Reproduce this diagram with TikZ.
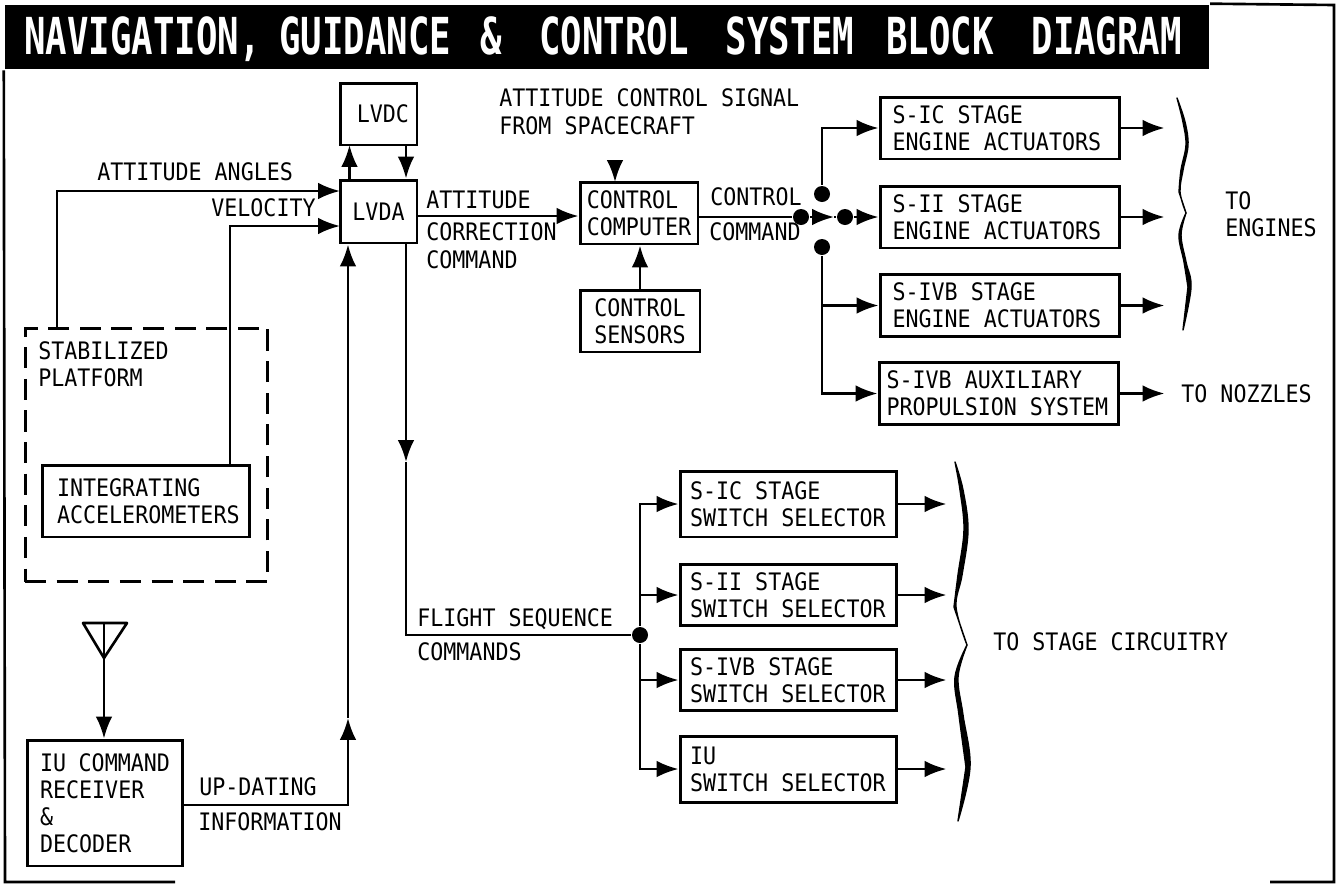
\documentclass[tikz,border=0pt]{standalone}
\usepackage{fontspec}
\usetikzlibrary{arrows.meta}
\newfontfamily\lblfont[FakeStretch=0.9]{DejaVu Sans Mono}
\newfontfamily\ttlfont[FakeStretch=0.70]{DejaVu Sans Mono Bold}
\begin{document}
\begin{tikzpicture}[x=0.02cm, y=-0.02cm, >={Latex[length=12.5pt,width=9.5pt]}, line width=1.5pt,
      font=\lblfont\fontsize{13.7pt}{15.4pt}\selectfont,
      blk/.style={draw, line width=1.7pt, align=flush left, inner sep=0pt},
      eng/.style={blk, minimum width=4.8cm, minimum height=1.24cm, text width=4.3cm},
      swt/.style={blk, minimum width=4.34cm, minimum height=1.24cm, text width=3.94cm},
      lbl/.style={anchor=west, align=left, inner sep=0pt},
      dot/.style={circle, fill=black, inner sep=0pt, minimum size=0.32cm},
      brc/.style={line width=0.8pt, line join=round}]
    \useasboundingbox (0,0) rectangle (1338,883);
    % frame and title
    \node[fill=black, minimum width=24.08cm, minimum height=1.28cm, inner sep=0pt] (ttl) at (607,37) {};
    \node[anchor=base west, inner sep=0pt, text=white, font=\ttlfont\fontsize{29pt}{30pt}\selectfont] (ttltxt) at (23,54) {NAVIGATION,\hspace{10.8pt}GUIDANCE\hspace{16.8pt}\&\hspace{21pt}CONTROL\hspace{20.6pt}SYSTEM\hspace{18.2pt}BLOCK\hspace{21.5pt}DIAGRAM};
    \draw (ttl.north east) -- (1334,5) -- (1334,882) -- (1270,882);
    \draw (ttl.south west) -- (5,882) -- (175,882);
    % computer and attitude loop
    \node[blk, minimum width=1.54cm, minimum height=1.24cm] (lvdc) at (378.5,114) {\hspace*{5pt}LVDC};
    \node[blk, minimum width=1.54cm, minimum height=1.26cm] (lvda) at (378.5,211.5) {LVDA};
    \node[blk, minimum width=2.36cm, minimum height=1.24cm] (comp) at (639,213) {CONTROL\\COMPUTER};
    \node[blk, minimum width=2.4cm, minimum height=1.24cm] (sens) at (640,321) {CONTROL\\SENSORS};
    \node[draw, dash pattern=on 12pt off 6pt, line width=1.7pt, minimum width=4.86cm, minimum height=5.08cm, inner sep=0pt] (plat) at (146.5,455) {};
    \node[lbl] (plattxt) at (37,364) {STABILIZED\\PLATFORM};
    \node[blk, minimum width=4.16cm, minimum height=1.44cm, text width=3.56cm] (accel) at (146,501) {INTEGRATING\\ACCELEROMETERS};
    \node[blk, minimum width=3.12cm, minimum height=2.52cm, text width=2.6cm] (recv) at (105,803) {IU COMMAND\\RECEIVER\\\&\\DECODER};
    % engine actuators
    \node[eng] (eng1) at (1000,128) {S-IC STAGE\\ENGINE ACTUATORS};
    \node[eng] (eng2) at (1000,217) {S-II STAGE\\ENGINE ACTUATORS};
    \node[eng] (eng3) at (1000,305.5) {S-IVB STAGE\\ENGINE ACTUATORS};
    \node[eng, text width=4.5cm] (aps) at (999,393.5) {S-IVB AUXILIARY\\PROPULSION SYSTEM};
    % switch selectors
    \node[swt, minimum height=1.32cm] (swt1) at (788.5,504) {S-IC STAGE\\SWITCH SELECTOR};
    \node[swt, minimum height=1.22cm] (swt2) at (788.5,595) {S-II STAGE\\SWITCH SELECTOR};
    \node[swt, minimum height=1.22cm] (swt3) at (788.5,680) {S-IVB STAGE\\SWITCH SELECTOR};
    \node[swt, minimum height=1.32cm] (swt4) at (788.5,769) {IU\\SWITCH SELECTOR};
    % junctions
    \node[dot] (jleft) at (801,217) {};
    \node[dot] (jright) at (845,217) {};
    \node[dot] (jtop) at (822,194) {};
    \node[dot] (jlow) at (822,247) {};
    \node[dot] (jseq) at (640,635) {};
    % free ends
    \coordinate (angfoot) at (57,328);
    \coordinate (angin) at (340,191);
    \coordinate (velfoot) at (230,465);
    \coordinate (velin) at (340,226);
    \coordinate (updn) at (349.5,145);
    \coordinate (dndn) at (406,145);
    \coordinate (attout) at (417,216);
    \coordinate (sigtop) at (615,160);
    \coordinate (sigin) at (615,182);
    \coordinate (jmid) at (834,217);
    \coordinate (seqtop) at (406,243);
    \coordinate (seqhead) at (406,462);
    \coordinate (updout) at (183,805);
    \coordinate (updhead) at (348,718);
    \coordinate (anttop) at (104,623);
    \coordinate (antl) at (83,623);
    \coordinate (antr) at (127,623);
    \coordinate (anttip) at (104,658);
    % connectors
    \draw[->] (angfoot) |- (angin);
    \draw[->] (velfoot) |- (velin);
    \draw[->] (updn |- lvda.north) -- (updn);
    \draw[->] (dndn) -- (dndn |- lvda.north);
    \draw[->] (attout) -- (attout -| comp.west);
    \draw[->] (sigtop) -- (sigin);
    \draw[->] (sens.north) -- (sens.north |- comp.south);
    \draw (jleft -| comp.east) -- (jleft);
    \draw[->] (jleft) -- (jmid);
    \draw (jmid) -- (jright);
    \draw[->] (jright) -- (eng2.west);
    \draw[->] (jtop) |- (eng1.west);
    \draw[->] (jlow) |- (eng3.west);
    \draw[->] (jlow) |- (aps.west);
    \draw[->] (eng1.east) -- ++(43,0) coordinate (out1);
    \draw[->] (eng2.east) -- ++(43,0) coordinate (out2);
    \draw[->] (eng3.east) -- ++(43,0) coordinate (out3);
    \draw[->] (aps.east) -- ++(44,0) coordinate (out4);
    \draw[->] (seqtop) -- (seqhead);
    \draw (seqhead) -- (seqtop |- jseq) -- (jseq);
    \draw[->] (jseq) |- (swt1.west);
    \draw[->] (jseq) |- (swt2.west);
    \draw[->] (jseq) |- (swt3.west);
    \draw[->] (jseq) |- (swt4.west);
    \draw[->] (swt1.east) -- ++(48,0) coordinate (out5);
    \draw[->] (swt2.east) -- ++(48,0) coordinate (out6);
    \draw[->] (swt3.east) -- ++(48,0) coordinate (out7);
    \draw[->] (swt4.east) -- ++(48,0) coordinate (out8);
    \draw[->] (updout) -| (updhead);
    \draw[->] (updhead) -- (updhead |- lvda.south);
    \draw[line join=round] (antl) -- (antr) -- (anttip) -- cycle;
    \draw[->] (anttop) -- (recv.north -| anttop);
    % labels
    \node[lbl] (tang) at (96,172) {ATTITUDE ANGLES};
    \node[lbl] (tvel) at (210,208) {VELOCITY};
    \node[lbl] (tatt) at (425,200) {ATTITUDE};
    \node[lbl] (tcor) at (425,232) {CORRECTION};
    \node[lbl] (tcom) at (425,260) {COMMAND};
    \node[lbl] (tsig) at (498,98) {ATTITUDE CONTROL SIGNAL};
    \node[lbl] (tfrom) at (498,126) {FROM SPACECRAFT};
    \node[lbl] (tctl) at (709,197) {CONTROL};
    \node[lbl] (tcmd) at (708,232) {COMMAND};
    \node[lbl] (teng) at (1224,214) {TO\\ENGINES};
    \node[lbl] (tnoz) at (1180,394) {TO NOZZLES};
    \node[lbl] (tflt) at (416,619) {FLIGHT SEQUENCE};
    \node[lbl] (tfcm) at (416,652) {COMMANDS};
    \node[lbl] (tstg) at (992,642) {TO STAGE CIRCUITRY};
    \node[lbl] (tupd) at (198,787) {UP-DATING};
    \node[lbl] (tinf) at (197,822) {INFORMATION};
    % braces
    \filldraw[brc] plot[smooth, tension=0.6] coordinates {(1177,98) (1185,122) (1188,145) (1183,170) (1180,192) (1186,213)} -- plot[smooth, tension=0.6] coordinates {(1179,192) (1181,170) (1186,145) (1183,122) (1177,98)} -- cycle;
    \filldraw[brc] plot[smooth, tension=0.6] coordinates {(1186,213) (1181,235) (1186,262) (1191,287) (1183,330)} -- plot[smooth, tension=0.6] coordinates {(1188,287) (1184,262) (1179,235) (1186,213)} -- cycle;
    \filldraw[brc] plot[smooth, tension=0.6] coordinates {(955,462) (963,490) (968,530) (962,575) (956,607) (967,645)} -- plot[smooth, tension=0.6] coordinates {(954,607) (958,575) (964,530) (960,490) (955,462)} -- cycle;
    \filldraw[brc] plot[smooth, tension=0.6] coordinates {(967,645) (958,677) (963,715) (970,767) (958,821)} -- plot[smooth, tension=0.6] coordinates {(966,767) (959,715) (955,677) (967,645)} -- cycle;
  \end{tikzpicture}
\end{document}
